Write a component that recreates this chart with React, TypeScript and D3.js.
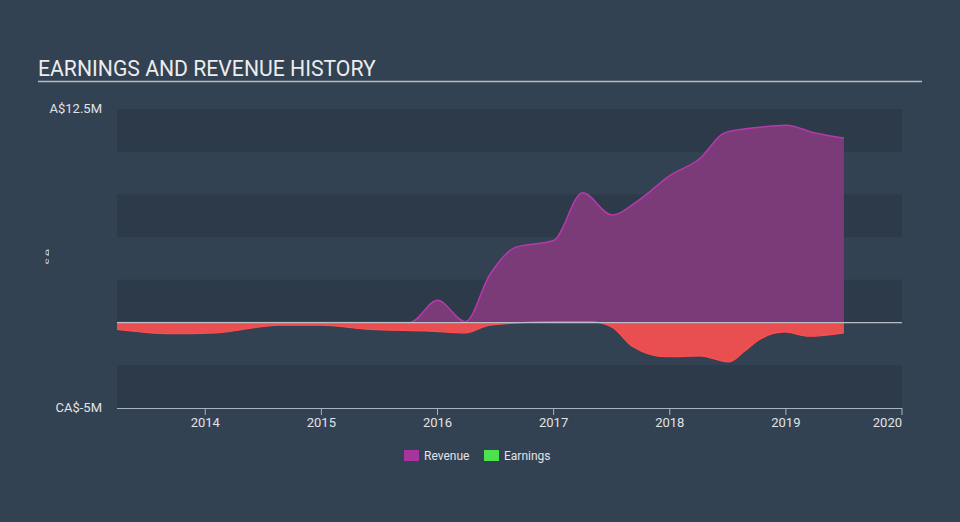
import React from "react";
import * as d3 from "d3";

const revYears = [2013.24, 2015.76, 2016.0, 2016.24, 2016.45, 2016.67, 2017.0, 2017.25, 2017.5, 2017.74, 2018.0, 2018.26, 2018.47, 2018.73, 2019.0, 2019.25, 2019.5];
const revValues = [0, 0, 1.3, 0.05, 2.8, 4.4, 4.8, 7.6, 6.3, 7.2, 8.6, 9.6, 11.1, 11.4, 11.55, 11.1, 10.8];

const earnYears = [2013.24, 2013.7, 2014.09, 2014.64, 2014.99, 2015.42, 2015.93, 2016.24, 2016.45, 2017.0, 2017.31, 2017.5, 2017.68, 2017.97, 2018.26, 2018.51, 2018.64, 2018.77, 2018.99, 2019.2, 2019.5];
const earnValues = [-0.4, -0.65, -0.6, -0.15, -0.15, -0.4, -0.5, -0.6, -0.15, 0.05, 0.05, -0.25, -1.4, -2.0, -1.95, -2.3, -1.7, -1.0, -0.55, -0.8, -0.6];

const xTicks = [2014, 2015, 2016, 2017, 2018, 2019, 2020];
const yTickLabels = ["A$12.5M", "CA$-5M"];
const yTickValues = [12.5, -5];
const bandEdges = [12.5, 10, 7.5, 5, 2.5, 0, -2.5, -5];

const W = 960;
const H = 522;
const L = 117;
const R = 902;
const T = 109;
const B = 408;

export default function App() {
  const x = d3.scaleLinear().domain([2013.24, 2020]).range([L, R]);
  const y = d3.scaleLinear().domain([-5, 12.5]).range([B, T]);

  const rev = revYears.map((yr, i) => [yr, revValues[i]] as [number, number]);
  const earn = earnYears.map((yr, i) => [yr, earnValues[i]] as [number, number]);

  const area = d3
    .area<[number, number]>()
    .x((d) => x(d[0]))
    .y0(y(0))
    .y1((d) => y(d[1]))
    .curve(d3.curveMonotoneX);
  const line = d3
    .line<[number, number]>()
    .x((d) => x(d[0]))
    .y((d) => y(d[1]))
    .curve(d3.curveMonotoneX);

  const font = "Roboto, 'Open Sans', sans-serif";

  return (
    <svg
      width={W}
      height={H}
      style={{ position: "fixed", left: 0, top: 0, display: "block" }}
    >
      <defs>
        <clipPath id="frag">
          <rect x={45.5} y={240} width={3.5} height={35} />
        </clipPath>
      </defs>
      <rect x={0} y={0} width={W} height={H} fill="#334252" />
      {bandEdges.slice(0, -1).map((v, i) => (
        <rect
          key={i}
          x={L}
          y={y(v)}
          width={R - L}
          height={y(bandEdges[i + 1]) - y(v)}
          fill={i % 2 === 0 ? "#2d3a4a" : "#334252"}
        />
      ))}
      <text x={38} y={76} fill="#ececec" fontFamily={font} fontSize={21.2}>
        EARNINGS AND REVENUE HISTORY
      </text>
      <line x1={38} x2={922} y1={81.5} y2={81.5} stroke="#b6bcc4" strokeWidth={1.5} />

      <g clipPath="url(#frag)">
        <text
          transform="translate(52,256) rotate(-90)"
          fill="#c8ccd2"
          fontFamily={font}
          fontSize={13}
          textAnchor="middle"
          letterSpacing={2}
        >
          se
        </text>
      </g>

      {yTickValues.map((v, i) => (
        <text
          key={i}
          x={102}
          y={y(v) + 4}
          fill="#e0e3e7"
          fontFamily={font}
          fontSize={13}
          textAnchor="end"
        >
          {yTickLabels[i]}
        </text>
      ))}

      <path d={area(rev) || ""} fill="#7b3a78" />
      <path d={line(rev) || ""} fill="none" stroke="#b53aa9" strokeWidth={1.5} />
      <path d={area(earn) || ""} fill="#e94f51" />
      <path d={line(earn) || ""} fill="none" stroke="#ff4d4f" strokeWidth={1.2} />

      <line x1={L} x2={R} y1={y(0)} y2={y(0)} stroke="#b8bec6" strokeWidth={1.2} />

      <line x1={L} x2={R} y1={B + 0.5} y2={B + 0.5} stroke="#a9b3bf" strokeWidth={1} />
      {xTicks.map((t) => (
        <g key={t}>
          <line x1={x(t)} x2={x(t)} y1={B} y2={B + 7} stroke="#a9b3bf" strokeWidth={1} />
          <text
            x={x(t)}
            y={427}
            fill="#e0e3e7"
            fontFamily={font}
            fontSize={13}
            textAnchor={t === 2020 ? "end" : "middle"}
          >
            {t}
          </text>
        </g>
      ))}

      <rect x={404} y={450} width={15} height={11} fill="#a8359f" />
      <text x={424} y={460} fill="#e0e3e7" fontFamily={font} fontSize={12}>
        Revenue
      </text>
      <rect x={484} y={450} width={15} height={11} fill="#4de04f" />
      <text x={504} y={460} fill="#e0e3e7" fontFamily={font} fontSize={12}>
        Earnings
      </text>
    </svg>
  );
}
